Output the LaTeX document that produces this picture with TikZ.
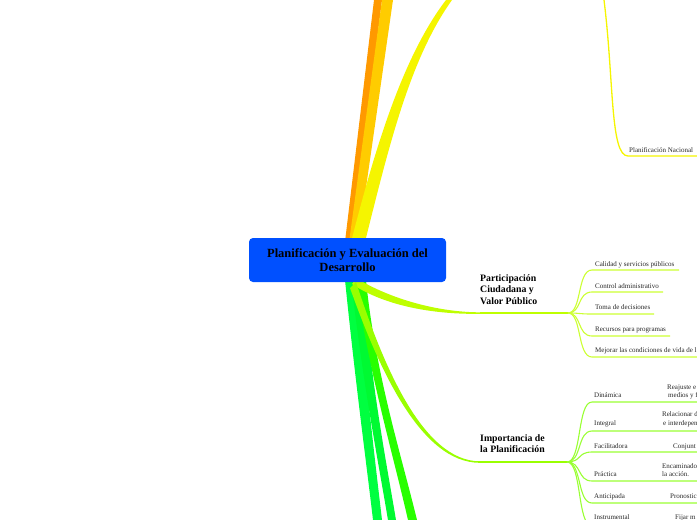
\documentclass[tikz,border=0pt]{standalone}
\usepackage{fontspec}
\setmainfont{Liberation Serif}
\definecolor{cblue}{RGB}{0,80,255}
\definecolor{corange}{RGB}{255,153,0}
\definecolor{cgold}{RGB}{255,204,0}
\definecolor{cyellow}{RGB}{245,245,0}
\definecolor{cpart}{RGB}{190,255,0}
\definecolor{cpartleaf}{RGB}{204,255,51}
\definecolor{cimp}{RGB}{153,255,0}
\definecolor{cimpleaf}{RGB}{153,255,51}
\definecolor{cgreenA}{RGB}{0,255,64}
\definecolor{cgreenB}{RGB}{0,250,50}
\definecolor{cgreenC}{RGB}{40,255,0}
\begin{document}
\begin{tikzpicture}[x=1pt,y=-1pt,
  leaftext/.style={font=\fontsize{7}{8}\selectfont, anchor=base west, inner sep=0pt, text=black!85},
  branchtext/.style={font=\fontsize{9.8}{11.8}\selectfont\bfseries, anchor=north west, align=left, inner sep=0pt},
  rootbox/.style={fill=cblue, rounded corners=4pt, minimum width=197pt, minimum height=44pt, inner sep=0pt,
     font=\fontsize{12.5}{14}\selectfont\bfseries, align=center},
  partleaf/.style={draw=cpartleaf, line width=1.1pt},
  impleaf/.style={draw=cimpleaf, line width=1.1pt}]
\useasboundingbox (0,0) rectangle (697,520);

% ---- upper branches ----
\fill[corange] (344,250) -- (374,0) -- (382,0) -- (351,250) -- cycle;
\fill[cgold] (348,250) -- (382,0) -- (393,0) -- (357,250) -- cycle;
\fill[cyellow] (349,250) .. controls (372,160) and (400,60) .. (446,0) -- (452,0)
   .. controls (409,60) and (388,150) .. (363,250) -- cycle;

% thin yellow line to Planificacion Nacional
\coordinate (ytop) at (604,0);
\coordinate (nacL) at (628,156);
\coordinate (nacR) at (697,156);
\draw[cyellow, line width=1.3pt] (ytop) .. controls (614,80) and (610,156) .. (nacL) -- (nacR);
\node[leaftext] (nac) at (629,152.5) {Planificación Nacional};

% ---- lower green branches ----
\fill[cgreenA] (344,270) .. controls (355,380) and (366,460) .. (373,520) -- (382,520)
   .. controls (375,460) and (365,380) .. (357,270) -- cycle;
\fill[cgreenB] (350,270) .. controls (362,380) and (378,460) .. (388,520) -- (396,520)
   .. controls (386,460) and (370,380) .. (362,270) -- cycle;
\fill[cgreenC] (354,270) .. controls (368,370) and (392,450) .. (408,520) -- (417,520)
   .. controls (400,450) and (374,370) .. (365,270) -- cycle;

% ---- Participacion branch ----
\coordinate (hubP) at (568,313);
\fill[cpart] (356,278) .. controls (392,300) and (440,312.3) .. (480,312.3) -- (480,313.8)
   .. controls (440,314.5) and (388,308) .. (352,284) -- cycle;
\draw[cpart, line width=1.4pt] (480,313) -- (hubP);
\draw[cpart, line width=2.6pt] (552,313) -- (hubP);

\node[branchtext] (part) at (480,274) {Participación\\Ciudadana y\\Valor Público};

\coordinate (p1a) at (592,270); \coordinate (p1b) at (679,270);
\coordinate (p2a) at (592,292); \coordinate (p2b) at (663,292);
\coordinate (p3a) at (592,314); \coordinate (p3b) at (654,314);
\coordinate (p4a) at (592,336); \coordinate (p4b) at (670,336);
\coordinate (p5a) at (592,357); \coordinate (p5b) at (697,357);
\foreach \i/\y in {1/270,2/292,3/314,4/336,5/357}{
  \draw[partleaf] (hubP) .. controls (582,313) and (577,\y) .. (p\i a) -- (p\i b);
}
\node[leaftext] (p1) at (595,266) {Calidad y servicios públicos};
\node[leaftext] (p2) at (595,288) {Control administrativo};
\node[leaftext] (p3) at (595,309.5) {Toma de decisiones};
\node[leaftext] (p4) at (595,331.5) {Recursos para programas};
\node[leaftext] (p5) at (595,352.5) {Mejorar las condiciones de vida de l};

% ---- Importancia branch ----
\coordinate (hubI) at (567,462);
\fill[cimp] (356,282) .. controls (382,362) and (422,461.3) .. (480,461.3) -- (480,462.8)
   .. controls (420,463) and (378,366) .. (350,288) -- cycle;
\draw[cimp, line width=1.4pt] (478,462) -- (hubI);
\draw[cimp, line width=2.6pt] (552,462) -- (hubI);

\node[branchtext] (imp) at (480,434) {Importancia de\\la Planificación};

\coordinate (i1a) at (592,402); \coordinate (i1b) at (697,402);
\coordinate (i2a) at (592,431); \coordinate (i2b) at (697,431);
\coordinate (i3a) at (592,452); \coordinate (i3b) at (697,452);
\coordinate (i4a) at (592,481); \coordinate (i4b) at (697,481);
\coordinate (i5a) at (592,503); \coordinate (i5b) at (697,503);
\coordinate (i6a) at (592,526); \coordinate (i6b) at (697,526);
\foreach \i/\y in {1/402,2/431,3/452,4/481,5/503,6/526}{
  \draw[impleaf] (hubI) .. controls (582,462) and (577,\y) .. (i\i a) -- (i\i b);
}
\node[leaftext] (i1) at (594,397.5) {Dinámica};
\node[leaftext] (i2) at (594,425.5) {Integral};
\node[leaftext] (i3) at (594,448) {Facilitadora};
\node[leaftext] (i4) at (594,476.5) {Práctica};
\node[leaftext] (i5) at (594,498.5) {Anticipada};
\node[leaftext] (i6) at (594,519.5) {Instrumental};

\node[leaftext] (d1) at (667,389) {Reajuste e};
\node[leaftext] (d2) at (668,397.5) {medios y f};
\node[leaftext] (g1) at (662,416.5) {Relacionar d};
\node[leaftext] (g2) at (663,425.5) {e interdepen};
\node[leaftext] (f1) at (673,448) {Conjunt};
\node[leaftext] (r1) at (662,468) {Encaminado};
\node[leaftext] (r2) at (662,476.5) {la acción.};
\node[leaftext] (a1) at (670,498.5) {Pronostic};
\node[leaftext] (s1) at (675,519.5) {Fijar m};

% ---- root ----
\node[rootbox] (root) at (347.5,260) {Planificación y Evaluación del\\Desarrollo};
\end{tikzpicture}
\end{document}
